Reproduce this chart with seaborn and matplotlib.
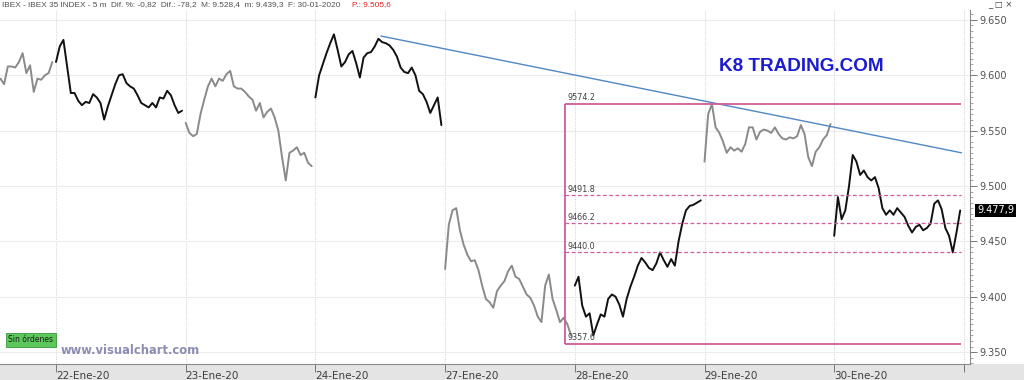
import numpy as np
import pandas as pd
import matplotlib
matplotlib.use("Agg")
import matplotlib.pyplot as plt
import matplotlib.transforms as mtransforms
from matplotlib.ticker import FuncFormatter, MultipleLocator
import seaborn as sns

# ---------------- data ----------------
session_days = ["21-Ene-20", "22-Ene-20", "23-Ene-20", "24-Ene-20",
                "27-Ene-20", "28-Ene-20", "29-Ene-20", "30-Ene-20"]
# 15-minute prices, 9:00 (open) ... 17:30; 21-Ene only visible from 14:00
jan21 = [9597, 9592, 9608, 9608, 9607, 9612, 9620, 9602, 9609, 9585, 9597, 9596,
         9600, 9602, 9612]
jan22 = [9612, 9626, 9632, 9608, 9584, 9584, 9577, 9573, 9576, 9575, 9583, 9580,
         9575, 9560, 9572, 9582, 9592, 9600, 9601, 9593, 9590, 9588, 9582, 9575,
         9573, 9571, 9575, 9571, 9580, 9579, 9586, 9582, 9573, 9566, 9568]
jan23 = [9557, 9548, 9545, 9547, 9565, 9578, 9590, 9597, 9590, 9597, 9595, 9601,
         9604, 9590, 9588, 9588, 9585, 9581, 9578, 9568, 9575, 9562, 9567, 9570,
         9562, 9550, 9526, 9505, 9530, 9532, 9535, 9528, 9530, 9521, 9518]
jan24 = [9580, 9600, 9610, 9620, 9629, 9637, 9623, 9608, 9612, 9619, 9622, 9611,
         9598, 9616, 9620, 9621, 9626, 9633, 9630, 9629, 9627, 9623, 9617, 9607,
         9603, 9602, 9607, 9600, 9586, 9583, 9576, 9566, 9573, 9580, 9555]
jan27 = [9425, 9465, 9478, 9480, 9460, 9447, 9438, 9432, 9433, 9424, 9410, 9398,
         9395, 9390, 9405, 9410, 9414, 9423, 9428, 9418, 9416, 9409, 9402, 9399,
         9392, 9382, 9377, 9410, 9420, 9398, 9388, 9377, 9381, 9375, 9365]
jan28 = [9410, 9418, 9392, 9382, 9385, 9365, 9375, 9384, 9382, 9398, 9402, 9400,
         9393, 9382, 9398, 9409, 9418, 9428, 9435, 9431, 9426, 9424, 9430, 9440,
         9433, 9427, 9434, 9428, 9450, 9466, 9478, 9482, 9483, 9485, 9487]
jan29 = [9522, 9565, 9574, 9553, 9548, 9540, 9530, 9535, 9532, 9534, 9531, 9538,
         9553, 9553, 9542, 9549, 9551, 9550, 9548, 9553, 9547, 9543, 9542, 9544,
         9543, 9545, 9555, 9547, 9526, 9518, 9531, 9535, 9542, 9546, 9556]
jan30 = [9455, 9490, 9470, 9478, 9500, 9528, 9522, 9510, 9514, 9508, 9505, 9508,
         9498, 9480, 9474, 9478, 9474, 9480, 9476, 9472, 9464, 9458, 9463, 9465,
         9460, 9462, 9466, 9484, 9487, 9479, 9462, 9455, 9440, 9458, 9477.9]
sessions = [jan21, jan22, jan23, jan24, jan27, jan28, jan29, jan30]

xtick_labels = ["22-Ene-20", "23-Ene-20", "24-Ene-20", "27-Ene-20",
                "28-Ene-20", "29-Ene-20", "30-Ene-20", ""]
ytick_values = [9350, 9400, 9450, 9500, 9550, 9600, 9650]

# Fibonacci box (day index, time) and levels
fib_high, fib_low = 9574.2, 9357.6
fib_levels = [9491.8, 9466.2, 9440.0]
fib_from = (4, "17:05")
fib_to = (7, "17:35")

# trend line
trend_from = (3, "13:25", 9635.5)
trend_to = (7, "17:35", 9530.0)

last_price = 9477.9
header = "IBEX - IBEX 35 INDEX - 5 m  Dif. %: -0,82  Dif.: -78,2  M: 9.528,4  m: 9.439,3  F: 30-01-2020"
header_p = "P.: 9.505,6"


# ---------------- helpers ----------------
def pos(day, hhmm):
    h, m = map(int, hhmm.split(":"))
    return day + (h * 60 + m - 540) / 525.0


rows = []
for d, vals in enumerate(sessions):
    first_slot = 35 - len(vals)
    for k, v in enumerate(vals):
        minutes = 15 * (first_slot + k)
        rows.append(dict(day=session_days[d], x=d + minutes / 525.0, price=v))
df = pd.DataFrame(rows)

palette = {lab: ("#8a8a8a" if i % 2 == 0 else "#111111")
           for i, lab in enumerate(session_days)}

# ---------------- figure ----------------
sns.set_theme(style="white")
plt.rcParams["font.family"] = ["DejaVu Sans"]

fig = plt.figure(figsize=(10.24, 3.8), dpi=100)
fig.patch.set_facecolor("white")
fig.patches.append(plt.Rectangle((0, 0), 1, 16 / 380, transform=fig.transFigure,
                                 facecolor="#e4e4e4", edgecolor="none", zorder=-5))
ax = fig.add_axes([0, 16 / 380, 970 / 1024, 354 / 380])
ax.set_facecolor("none")

x_left = 1 - 56 / 129.7
x_right = 1 + 914 / 129.7

# price series
sns.lineplot(data=df, x="x", y="price", hue="day", palette=palette, legend=False,
             linewidth=1.4, estimator=None, sort=False, ax=ax, zorder=3)

# trend line
tx = [pos(trend_from[0], trend_from[1]), pos(trend_to[0], trend_to[1])]
ty = [trend_from[2], trend_to[2]]
sns.lineplot(x=tx, y=ty, color="#4f88c6", linewidth=1.0, ax=ax, zorder=4)

ax.set_xlim(x_left, x_right)
ax.set_ylim(9339.2, 9659.0)

# grid
ax.set_yticks(ytick_values)
ax.yaxis.set_minor_locator(MultipleLocator(5))
ax.set_xticks(list(range(1, 9)))
ax.set_xticklabels(xtick_labels)
ax.grid(True, axis="y", which="major", color="#ececec", lw=0.8)
ax.grid(True, axis="x", which="major", color="#d8d8d8", lw=0.8, linestyle=(0, (1, 1)))
ax.set_axisbelow(True)

# fibonacci box
pink = "#d25c98"
fx0 = pos(*fib_from)
fx1 = pos(*fib_to)
ax.hlines([fib_high, fib_low], fx0, fx1, color=pink, lw=1.3, zorder=4)
ax.vlines([fx0], fib_low, fib_high, color=pink, lw=1.3, zorder=4)
ax.hlines(fib_levels, fx0, fx1, color=pink, lw=0.9, linestyles=(0, (3, 2)), zorder=4)
for lv in [fib_high] + fib_levels + [fib_low]:
    ax.annotate(f"{lv:.1f}", (fx0, lv), xytext=(2, 1), textcoords="offset points",
                fontsize=5.8, color="#404040", va="bottom", ha="left", zorder=5)

# texts
ax.text(6.744, 9604, "K8 TRADING.COM", fontsize=13.6, fontweight="bold",
        family="Liberation Sans", color="#1b1bd0", ha="center", va="baseline", zorder=6)
ax.text(61 / 970, 0.028, "www.visualchart.com", transform=ax.transAxes,
        fontsize=8.3, fontweight="bold", color="#8d8db4", ha="left", va="baseline")
ax.text(31 / 970, 0.068, "Sin órdenes", transform=ax.transAxes, fontsize=5.5,
        color="#1a1a1a", ha="center", va="center",
        bbox=dict(boxstyle="square,pad=0.35", fc="#5cc85c", ec="#3a9a3a", lw=0.6))

# axes styling
for s in ["left", "top"]:
    ax.spines[s].set_visible(False)
for s in ["right", "bottom"]:
    ax.spines[s].set_color("#8a8a8a")
    ax.spines[s].set_linewidth(0.8)

ax.yaxis.tick_right()
ax.yaxis.set_major_formatter(FuncFormatter(lambda v, p: f"{v / 1000:.3f}"))
ax.tick_params(axis="y", which="major", length=5, width=0.7, color="#777777",
               labelsize=7, labelcolor="#505050", pad=2, right=True, left=False)
ax.tick_params(axis="y", which="minor", length=2.5, width=0.6, color="#999999",
               right=True, left=False)
ax.tick_params(axis="x", which="major", length=6, width=0.7, color="#777777",
               labelsize=7.5, labelcolor="#404040", pad=-1, bottom=True,
               labelbottom=True)
ax.set_xlabel("")
ax.set_ylabel("")
for lab in ax.get_xticklabels():
    lab.set_horizontalalignment("left")

# last price tag
ax.text(1.0075, last_price, "9.477,9",
        transform=mtransforms.blended_transform_factory(ax.transAxes, ax.transData),
        fontsize=7, color="white", ha="left", va="center", clip_on=False,
        bbox=dict(boxstyle="square,pad=0.2", fc="black", ec="none"))

# header
fig.text(2 / 1024, 1 - 5 / 380, header, fontsize=5.95, family="Liberation Sans",
         color="#505050", ha="left", va="center")
fig.text(352 / 1024, 1 - 5 / 380, header_p, fontsize=5.95, family="Liberation Sans",
         color="#e02020", ha="left", va="center")
fig.text(1012 / 1024, 1 - 5 / 380, "_ □ ×", fontsize=6, color="#444444",
         ha="right", va="center")

fig.savefig("out.png", dpi=100, facecolor="white")
